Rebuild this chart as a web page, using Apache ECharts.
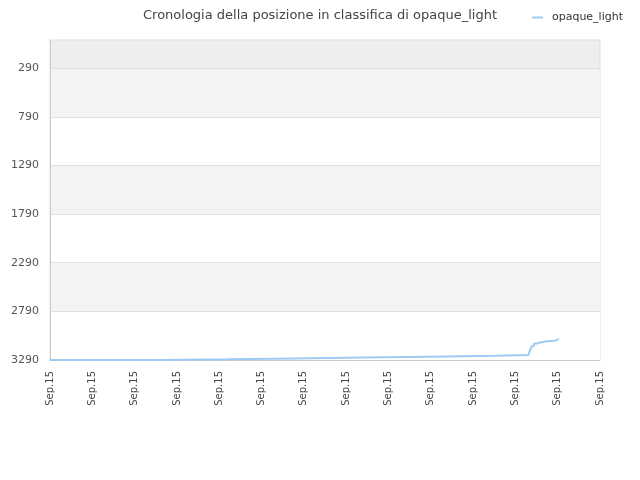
<!DOCTYPE html>
<html>
<head>
<meta charset="utf-8">
<script src="https://cdn.jsdelivr.net/npm/echarts@6/dist/echarts.min.js"></script>
<style>html,body{margin:0;padding:0;background:#fff}#c{width:640px;height:480px}</style>
</head>
<body>
<div id="c"></div>
<script>
const titleText = 'Cronologia della posizione in classifica di opaque_light';
const seriesName = 'opaque_light';
const xTickLabels = ['Sep.15','Sep.15','Sep.15','Sep.15','Sep.15','Sep.15','Sep.15','Sep.15','Sep.15','Sep.15','Sep.15','Sep.15','Sep.15','Sep.15'];
const yTickValues = [290, 790, 1290, 1790, 2290, 2790, 3290];
const timeIdx = [0, 26, 41.8, 57.7, 73.7, 89.6, 105.4, 113.05, 113.3, 113.6, 113.9, 114.4, 115.1, 116.1, 117.2, 118.4, 119.6, 120.1];
const ranks   = [3290, 3283, 3274, 3265, 3256, 3247, 3238, 3238, 3210, 3176, 3145, 3120, 3107, 3101, 3094, 3089, 3078, 3070];

const data = timeIdx.map((x, i) => [x, ranks[i]]);
const font = 'DejaVu Sans';
const chart = echarts.init(document.getElementById('c'), null, {renderer: 'canvas'});
chart.setOption({
  animation: false,
  backgroundColor: '#fff',
  title: {
    text: titleText, left: 'center', top: 4,
    textStyle: {fontFamily: font, fontSize: 13, fontWeight: 'normal', color: '#444'}
  },
  legend: {
    right: 12, top: 7, icon: 'rect', itemWidth: 11, itemHeight: 2, itemGap: 8,
    textStyle: {fontFamily: font, fontSize: 11, color: '#333', padding: [0, 0, 0, 4]},
    data: [seriesName]
  },
  grid: {
    left: 50, right: 40, top: 40, bottom: 120, show: true,
    backgroundColor: '#eeeeee', borderColor: '#dddddd', borderWidth: 1
  },
  xAxis: {
    type: 'value', min: 0, max: 130, interval: 10,
    axisLine: {show: true, lineStyle: {color: '#cccccc'}},
    axisTick: {show: false},
    splitLine: {show: false},
    axisLabel: {
      rotate: 90, margin: 11, fontFamily: font, fontSize: 10, color: '#444',
      formatter: v => xTickLabels[Math.round(v / 10)] || ''
    }
  },
  yAxis: {
    type: 'value', inverse: true, min: 1, max: 3290,
    axisLine: {show: true, lineStyle: {color: '#cccccc'}},
    axisTick: {show: false, customValues: yTickValues},
    axisLabel: {customValues: yTickValues, margin: 11, fontFamily: font, fontSize: 11, color: '#555',
      formatter: v => String(v)},
    splitLine: {show: true, lineStyle: {color: '#e0e0e0'}},
    splitArea: {show: true, areaStyle: {color: ['#f3f3f3', '#ffffff']}}
  },
  series: [{
    name: seriesName, type: 'line', step: 'end', data: data,
    showSymbol: false, symbol: 'none',
    lineStyle: {color: '#9ecaf5', width: 2}, itemStyle: {color: '#9ecaf5'}
  }]
});
</script>
</body>
</html>
